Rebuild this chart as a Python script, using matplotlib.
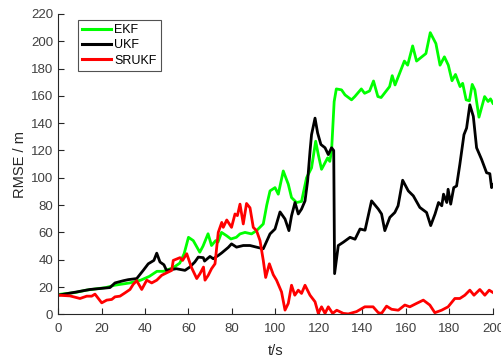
import numpy as np
import matplotlib
matplotlib.use("Agg")
import matplotlib.pyplot as plt

# RMSE curves for the three filters (t in s, RMSE in m)
ekf_t = [0, 8, 13, 22, 26, 33, 38, 42, 45.5, 48.5, 53, 56, 58, 60, 62.2, 65.2,
         66.7, 69, 70.6, 72.5, 73.6, 75.2, 77.5, 79.5, 82, 83.7, 86, 89, 91.3,
         94.4, 96, 97.5, 99.8, 101.3, 103.6, 105.9, 107.4, 109.7, 112, 114.3,
         116.6, 118.5, 119.7, 121.2, 122.8, 124, 125, 125.8, 127, 128, 130.4,
         132, 135, 136.5, 139.5, 141, 143.3, 145.1, 147.1, 148.6, 152.5, 153.7,
         155, 159.3, 160.8, 163.1, 164.9, 169.2, 171.2, 173.8, 175.7, 177.7,
         179.5, 181.2, 182.8, 184.9, 186.1, 187.7, 189.2, 190.5, 191.7, 193.6,
         196.2, 197.8, 198.9, 200]
ekf_rmse = [14.5, 16, 17.7, 19.6, 21.3, 23, 25, 27.8, 31.5, 31.5, 34.2, 37.5,
            44.4, 56.4, 54, 45.5, 50, 59, 50.4, 54, 53, 60, 57.6, 55.2, 56.4,
            58.9, 60, 58.9, 61.3, 66.2, 80, 90.4, 92.8, 88, 105, 95.3, 85.5,
            81.9, 82.7, 100, 107.3, 126.8, 117, 106.2, 111, 114.6, 112, 119.5,
            155.8, 165.1, 164.4, 160.7, 157.1, 159.5, 165.1, 161.9, 163.6,
            170.9, 159.5, 158.8, 166.8, 174.8, 168, 185.5, 182.5, 196.6, 185.5,
            191, 206.3, 198.3, 182.5, 188.6, 182.5, 171.1, 175.7, 166.8, 169.2,
            157.1, 156.4, 168.4, 164.4, 144.4, 159.5, 155.9, 157.8, 154.6]

ukf_t = [0, 8.6, 14.7, 23.9, 26.2, 30, 32.3, 36.2, 39.2, 41.5, 44.1, 45.4, 46.9,
         48.7, 49.9, 54.4, 58.4, 60.6, 62.9, 64.5, 66.8, 67.4, 69.9, 71.4, 73.7,
         75.3, 78.3, 79.8, 82.1, 85.2, 88.3, 91.3, 94.4, 97.5, 99.8, 102.1,
         104.4, 106.2, 107.4, 109, 110.5, 112, 113.6, 114.8, 115.9, 116.6,
         118.2, 119.4, 120.9, 122.8, 124.3, 125.8, 126.8, 127.2, 128.9, 131.2,
         134.3, 136.6, 138.9, 141.2, 144.2, 147.3, 148.8, 150.3, 152.6, 154.9,
         156.4, 158.5, 161.1, 163.4, 166.4, 169.5, 171.4, 173.4, 175, 176.5,
         177.3, 178.8, 179.4, 180.6, 182, 183.3, 184.8, 186.7, 187.9, 189.4,
         191, 192.5, 194.8, 197.1, 198.6, 199.4, 200]
ukf_rmse = [14, 16.4, 18.2, 19.6, 23, 24.6, 25.4, 26.2, 32.2, 37, 39.5, 44.8,
            38.3, 36.3, 32.2, 33.4, 32.2, 34.6, 38.3, 41.9, 41.5, 39, 42.4,
            40.7, 43.1, 45, 49, 51.6, 49.2, 50.4, 50.4, 49.2, 48, 58.9, 62.5,
            75, 69.8, 61.3, 72.2, 81.9, 73.5, 77.1, 83.1, 97.7, 119.5, 131.6,
            143.7, 132.8, 124.4, 122, 117, 122, 120, 29.8, 50.4, 52.8, 56.4, 55,
            62.5, 61.6, 83.1, 77.1, 73.5, 61.3, 71, 74.6, 79.5, 98.2, 90.4,
            86.8, 78.3, 74.6, 65, 73.5, 81.9, 79.5, 88, 81.9, 91.6, 80.7, 92.8,
            94, 109.8, 131.6, 136.4, 153.5, 145, 122, 113.5, 103.7, 103, 92.8,
            95]

srukf_t = [0, 5.5, 10.1, 13.2, 15.5, 17, 20.1, 22.4, 24.7, 26.2, 28.5, 30.8,
           33.1, 34.6, 36.2, 38.5, 40.8, 43.1, 45.4, 47.7, 49.2, 52.3, 53, 56.1,
           57.3, 59.2, 61.3, 63.8, 65.3, 66.9, 67.6, 69.1, 70.6, 72.2, 73.7,
           75.3, 76, 77.6, 79.8, 81.4, 82.5, 83.7, 85.2, 86.7, 88.3, 89.8, 91.3,
           92.9, 94.4, 95.5, 97.2, 99, 100.5, 102.8, 104.4, 105.9, 107.4, 108.9,
           110.5, 112, 113.6, 115.9, 118.2, 119.7, 121.2, 122.8, 124.3, 126.3,
           128.2, 131.2, 133.5, 137.3, 141.1, 144.9, 147.3, 148.8, 151.1, 153.4,
           156.5, 159.5, 161.8, 164.9, 168, 171, 173.3, 176.4, 179.4, 182.5,
           184.8, 187.1, 189.4, 191.3, 194, 196.3, 198.3, 200]
srukf_rmse = [14, 13.5, 11.6, 13.3, 13.3, 14.8, 8.4, 10.4, 10.9, 12.8, 13.3,
              15.7, 18.2, 22, 24.6, 18.2, 25, 23, 25, 28.6, 29.8, 32.2, 39.5,
              41.5, 39.5, 44.4, 34.6, 26.2, 29.8, 34.6, 25, 28.6, 33.4, 37, 60,
              67.3, 63.7, 69.1, 63.7, 73.5, 72.3, 80.7, 66.2, 81.2, 78, 63.7,
              61.3, 54, 39.5, 27, 37, 29, 25, 16.4, 3.1, 8, 21.3, 14, 17.7,
              15.3, 21.3, 14, 9.2, 0.7, 5.5, 0.7, 5.5, 0.7, 3, 0.7, 0.3, 2, 5.5,
              5.5, 1.2, 0.7, 6, 3.7, 3, 6.8, 5.5, 8, 10.4, 6.8, 1.2, 3, 5.5,
              11.6, 11.6, 14, 17.7, 14, 18.2, 14, 17.7, 16]

labels = ["EKF", "UKF", "SRUKF"]
colors = ["#00ff00", "#000000", "#ff0000"]

plt.rcParams['font.family'] = ['Liberation Sans', 'DejaVu Sans']

fig = plt.figure(figsize=(5.01, 3.58), dpi=100)
ax = fig.add_axes([0.1158, 0.122, 0.868, 0.839])

series = [(ekf_t, ekf_rmse), (ukf_t, ukf_rmse), (srukf_t, srukf_rmse)]
for (t, v), lab, c in zip(series, labels, colors):
    ax.plot(t, v, color=c, lw=2.0, label=lab)

ax.set_xlim(0, 200)
ax.set_ylim(0, 220)
ax.set_xticks(np.arange(0, 201, 20))
ax.set_yticks(np.arange(0, 221, 20))
ax.set_xlabel("t/s", fontsize=10.5, color="#262626", labelpad=7)
ax.set_ylabel("RMSE / m", fontsize=10.5, color="#262626", labelpad=3)

for side in ["top", "right"]:
    ax.spines[side].set_visible(False)
for side in ["left", "bottom"]:
    ax.spines[side].set_color("#262626")
    ax.spines[side].set_linewidth(0.8)
ax.tick_params(direction="in", length=4, width=0.8, colors="#262626",
               labelsize=9.5, labelcolor="#404040")
ax.tick_params(axis="x", pad=6)

leg = ax.legend(loc="upper left", bbox_to_anchor=(0.045, 0.98), fontsize=9,
                frameon=True, fancybox=False, handlelength=2.3,
                handletextpad=0.3, borderpad=0.35, labelspacing=0.25,
                borderaxespad=0)
leg.get_frame().set_edgecolor("#262626")
leg.get_frame().set_linewidth(0.8)
for line in leg.get_lines():
    line.set_linewidth(2.2)

fig.savefig("out.png", dpi=100)
